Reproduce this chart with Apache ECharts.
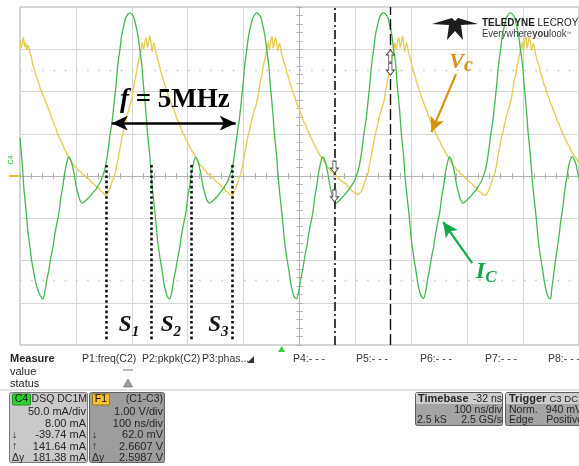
<!DOCTYPE html>
<html>
<head>
<meta charset="utf-8">
<script src="https://cdn.jsdelivr.net/npm/echarts/dist/echarts.min.js"></script>
<style>
  html, body { margin: 0; padding: 0; background: #fff; }
  #chart { width: 579px; height: 466px; }
</style>
</head>
<body>
<div id="chart"></div>
<script>
// Time axis in ns (100 ns/div, trigger-centred), amplitude in screen divisions.

// F1 = C1 - C3, capacitor voltage Vc
const vcData = [
  [-500,3.20],[-498,3.02],[-496,3.14],[-494,3.28],[-492,3.06],[-490,3.16],[-488,2.98],[-486,3.10],[-484,3.04],[-482,2.90],
  [-480,2.84],[-477,2.62],[-475,2.56],[-472,2.40],[-470,2.34],[-467,2.22],[-464,2.08],[-462,2.04],[-459,1.92],[-456,1.84],
  [-453,1.72],[-450,1.62],[-447,1.52],[-445,1.42],[-442,1.32],[-439,1.22],[-436,1.14],[-433,1.00],[-430,0.92],[-427,0.84],
  [-424,0.76],[-421,0.66],[-418,0.58],[-415,0.50],[-412,0.42],[-408,0.34],[-405,0.30],[-402,0.22],[-398,0.18],[-395,0.12],
  [-391,0.10],[-388,0.03],[-384,0.02],[-381,-0.05],[-377,-0.07],[-374,-0.13],[-370,-0.17],[-366,-0.21],[-363,-0.27],[-359,-0.29],
  [-356,-0.36],[-352,-0.38],[-349,-0.44],[-345,-0.46],
  [-342,-0.38],[-339,-0.30],[-336,-0.16],[-333,-0.06],[-330,0.04],[-327,0.24],[-324,0.46],[-321,0.66],[-318,0.88],[-315,1.06],
  [-312,1.22],[-309,1.42],[-306,1.54],[-303,1.68],[-300,1.82],[-298,2.00],[-295,2.24],[-292,2.42],[-290,2.58],[-287,2.78],
  [-284,2.94],[-282,3.10],[-281,3.16],[-279,3.00],[-277,3.10],[-276,3.22],[-274,3.28],[-272,3.04],[-270,3.14],[-268,3.32],
  [-266,3.20],[-264,2.94],[-262,3.06],[-261,3.16],[-259,3.08],[-257,2.92],[-255,2.84],[-253,2.72],[-250,2.58],[-248,2.46],
  [-245,2.34],[-242,2.20],[-239,2.08],[-236,1.96],[-233,1.84],[-230,1.74],[-227,1.62],[-224,1.54],[-221,1.42],[-218,1.32],
  [-215,1.22],[-212,1.14],[-209,1.02],[-206,0.96],[-203,0.86],[-200,0.80],[-197,0.70],[-194,0.64],[-191,0.56],[-188,0.50],
  [-184,0.40],[-181,0.36],[-178,0.26],[-174,0.22],[-171,0.14],[-167,0.12],[-164,0.04],[-160,0.03],[-157,-0.04],[-153,-0.06],
  [-150,-0.12],[-146,-0.16],[-142,-0.20],[-139,-0.26],[-135,-0.28],[-132,-0.36],[-128,-0.38],[-125,-0.44],[-120,-0.46],
  [-117,-0.38],[-114,-0.28],[-111,-0.17],[-108,-0.05],[-105,0.05],[-102,0.22],[-99,0.48],[-96,0.66],[-93,0.90],[-90,1.04],
  [-87,1.24],[-84,1.40],[-81,1.56],[-78,1.66],[-75,1.84],[-73,1.98],[-70,2.26],[-67,2.40],[-65,2.60],[-62,2.76],
  [-59,2.96],[-57,3.08],[-56,3.18],[-54,2.98],[-52,3.12],[-51,3.24],[-49,3.30],[-47,3.02],[-45,3.16],[-43,3.28],
  [-41,3.18],[-39,2.96],[-37,3.08],[-36,3.14],[-34,3.06],[-32,2.90],[-30,2.86],[-28,2.70],[-25,2.60],[-23,2.44],
  [-20,2.36],[-17,2.18],[-14,2.10],[-11,1.94],[-8,1.86],[-5,1.72],[-2,1.64],[1,1.52],[4,1.44],[7,1.30],
  [10,1.24],[13,1.12],[16,1.04],[19,0.94],[22,0.88],[25,0.78],[28,0.72],[31,0.62],[34,0.58],[37,0.48],
  [41,0.42],[44,0.34],[47,0.28],[51,0.20],[54,0.16],[58,0.10],[61,0.06],[65,0.02],[68,-0.04],[72,-0.08],
  [75,-0.10],[79,-0.16],[83,-0.18],[86,-0.24],[90,-0.28],[93,-0.34],[97,-0.38],[100,-0.40],[104,-0.44],[107,-0.46],
  [110,-0.38],[113,-0.30],[116,-0.16],[119,-0.06],[122,0.04],[125,0.24],[128,0.46],[131,0.66],[134,0.88],[137,1.06],
  [140,1.22],[143,1.42],[146,1.54],[149,1.68],[152,1.82],[154,2.00],[157,2.24],[160,2.42],[162,2.58],[165,2.78],
  [168,2.94],[170,3.10],[171,3.16],[173,3.00],[175,3.10],[176,3.22],[178,3.28],[180,3.04],[182,3.14],[184,3.32],
  [186,3.20],[188,2.94],[190,3.06],[191,3.16],[193,3.08],[195,2.92],[197,2.84],[199,2.72],[202,2.58],[204,2.46],
  [207,2.34],[210,2.20],[213,2.08],[216,1.96],[219,1.84],[222,1.74],[225,1.62],[228,1.54],[231,1.42],[234,1.32],
  [237,1.22],[240,1.14],[243,1.02],[246,0.96],[249,0.86],[252,0.80],[255,0.70],[258,0.64],[261,0.56],[264,0.50],
  [268,0.40],[271,0.36],[274,0.26],[278,0.22],[281,0.14],[285,0.12],[288,0.04],[292,0.03],[295,-0.04],[299,-0.06],
  [302,-0.12],[306,-0.16],[310,-0.20],[313,-0.26],[317,-0.28],[320,-0.36],[324,-0.38],[327,-0.44],[334,-0.46],
  [337,-0.38],[340,-0.28],[343,-0.17],[346,-0.05],[349,0.05],[352,0.22],[355,0.48],[358,0.66],[361,0.90],[364,1.04],
  [367,1.24],[370,1.40],[373,1.56],[376,1.66],[379,1.84],[381,1.98],[384,2.26],[387,2.40],[389,2.60],[392,2.76],
  [395,2.96],[397,3.08],[398,3.18],[400,2.98],[402,3.12],[403,3.24],[405,3.30],[407,3.02],[409,3.16],[411,3.28],
  [413,3.18],[415,2.96],[417,3.08],[418,3.14],[420,3.06],[422,2.90],[424,2.86],[426,2.70],[429,2.60],[431,2.44],
  [434,2.36],[437,2.18],[440,2.10],[443,1.94],[446,1.86],[449,1.72],[452,1.64],[455,1.52],[458,1.44],[461,1.30],
  [464,1.24],[467,1.12],[470,1.04],[473,0.94],[476,0.88],[479,0.78],[482,0.72],[485,0.62],[488,0.58],[491,0.48],
  [495,0.42],[498,0.34],[501,0.28]
];

// C4, collector current Ic
const icData = [
  [-500,0.90],[-496,0.30],[-493,-0.30],[-489,-0.85],[-486,-1.30],[-482,-1.70],[-479,-2.02],[-475,-2.30],[-472,-2.52],[-468,-2.70],
  [-465,-2.80],[-462,-2.87],[-459,-2.92],
  [-455,-2.70],[-452,-2.46],[-448,-2.20],[-445,-1.94],[-441,-1.68],[-438,-1.40],[-434,-1.12],[-430,-0.85],[-427,-0.52],[-423,-0.21],
  [-420,0.08],[-416,0.33],[-413,0.45],[-410,0.40],[-407,0.28],[-403,0.03],[-400,-0.21],[-396,-0.42],[-393,-0.57],[-388,-0.64],
  [-384,-0.60],[-379,-0.54],[-374,-0.47],[-370,-0.40],[-365,-0.33],[-361,-0.24],[-356,-0.13],[-352,0.00],[-348,0.17],[-345,0.38],
  [-342,0.65],[-339,0.97],[-335,1.32],[-332,1.68],[-328,2.18],[-325,2.63],[-321,3.02],[-318,3.34],[-314,3.58],[-311,3.74],
  [-307,3.83],[-304,3.86],[-300,3.83],[-296,3.74],[-293,3.58],[-289,3.32],[-286,3.02],[-282,2.62],[-279,2.12],[-275,1.56],
  [-272,1.02],[-268,0.50],[-265,-0.04],[-261,-0.57],[-257,-1.06],[-254,-1.51],[-250,-1.90],[-246,-2.22],[-243,-2.50],[-239,-2.75],
  [-236,-2.86],[-232,-2.91],
  [-228,-2.71],[-225,-2.45],[-221,-2.19],[-218,-1.95],[-214,-1.67],[-211,-1.38],[-207,-1.11],[-203,-0.84],[-200,-0.51],[-196,-0.20],
  [-193,0.09],[-189,0.34],[-186,0.44],[-183,0.39],[-180,0.27],[-176,0.02],[-173,-0.22],[-169,-0.43],[-166,-0.56],[-161,-0.64],
  [-157,-0.61],[-152,-0.55],[-147,-0.48],[-143,-0.41],[-138,-0.33],[-134,-0.25],[-129,-0.14],[-125,0.00],[-121,0.16],[-118,0.36],
  [-115,0.63],[-112,0.95],[-108,1.30],[-105,1.66],[-101,2.16],[-98,2.62],[-94,3.01],[-91,3.33],[-87,3.57],[-84,3.73],
  [-80,3.82],[-77,3.86],[-73,3.83],[-69,3.75],[-66,3.58],[-62,3.33],[-59,3.02],[-55,2.62],[-52,2.11],[-48,1.55],
  [-45,1.01],[-41,0.49],[-38,-0.05],[-34,-0.58],[-30,-1.07],[-27,-1.52],[-23,-1.91],[-19,-2.23],[-16,-2.51],[-12,-2.76],
  [-9,-2.87],[-5,-2.90],
  [-1,-2.70],[2,-2.46],[6,-2.20],[9,-1.94],[13,-1.68],[16,-1.41],[20,-1.12],[24,-0.86],[27,-0.53],[31,-0.22],
  [34,0.07],[38,0.32],[41,0.45],[44,0.41],[47,0.29],[51,0.04],[54,-0.21],[58,-0.43],[61,-0.58],[66,-0.64],
  [70,-0.60],[75,-0.53],[80,-0.46],[84,-0.39],[89,-0.31],[93,-0.23],[98,-0.12],[102,0.01],[106,0.18],[109,0.39],
  [112,0.66],[115,0.98],[119,1.33],[122,1.69],[126,2.19],[129,2.64],[133,3.03],[136,3.35],[140,3.59],[143,3.75],
  [147,3.84],[150,3.86],[154,3.83],[158,3.76],[161,3.59],[165,3.35],[168,3.03],[172,2.64],[175,2.13],[179,1.57],
  [182,1.03],[186,0.51],[189,-0.03],[193,-0.56],[197,-1.05],[200,-1.50],[204,-1.89],[208,-2.21],[211,-2.49],[215,-2.74],
  [218,-2.85],[222,-2.90],
  [226,-2.71],[229,-2.46],[233,-2.19],[236,-1.94],[240,-1.67],[243,-1.40],[247,-1.12],[251,-0.85],[254,-0.52],[258,-0.21],
  [261,0.08],[265,0.33],[268,0.45],[271,0.40],[274,0.28],[278,0.03],[281,-0.21],[285,-0.42],[288,-0.57],[293,-0.64],
  [297,-0.60],[302,-0.54],[307,-0.47],[311,-0.40],[316,-0.33],[320,-0.24],[325,-0.13],[329,0.00],[333,0.17],[336,0.38],
  [339,0.65],[342,0.97],[346,1.32],[349,1.68],[353,2.18],[356,2.63],[360,3.02],[363,3.34],[367,3.58],[370,3.74],
  [374,3.83],[377,3.86],[381,3.83],[385,3.74],[388,3.58],[392,3.32],[395,3.02],[399,2.62],[402,2.12],[406,1.56],
  [409,1.02],[413,0.50],[416,-0.04],[420,-0.57],[424,-1.06],[427,-1.51],[431,-1.90],[435,-2.22],[438,-2.50],[442,-2.75],
  [445,-2.86],[449,-2.91],
  [451,-2.70],[454,-2.40],[457,-2.10],[460,-1.80],[464,-1.45],[467,-1.10],[471,-0.75],[474,-0.40],[478,-0.05],[481,0.20],
  [485,0.40],[488,0.46],[491,0.40],[495,0.26],[498,0.06],[501,-0.10]
];

// Switching-interval boundaries and their labels
const dividerTimes = [-345, -266, -194, -120];
const intervalLabels = ['1', '2', '3'];
const intervalLabelTimes = [-305, -230, -145];

// Cursors (time, ns) and trigger position
const cursorTimes = [62.5, 162.5];
const triggerTime = -32;

// Bottom readout texts
const measureHeads = ['P1:freq(C2)', 'P2:pkpk(C2)', 'P3:phas...', 'P4:- - -', 'P5:- - -', 'P6:- - -', 'P7:- - -', 'P8:- - -'];
const c4Rows = ['50.0 mA/div', '8.00 mA', '-39.74 mA', '141.64 mA', '181.38 mA'];
const f1Rows = ['1.00 V/div', '100 ns/div', '62.0 mV', '2.6607 V', '2.5987 V'];
const rowMarks = ['', '', '\u2193', '\u2191', '\u0394y'];

const SERIF = '"Liberation Serif", "DejaVu Serif", serif';
const SANS = '"Liberation Sans", Arial, sans-serif';
const VC_COLOR = '#d4920f';
const IC_COLOR = '#12a84c';

const chart = echarts.init(document.getElementById('chart'), null, { renderer: 'canvas' });

function axisX(pos, grid) {
  return {
    type: 'value', min: -500, max: 500, interval: 100, position: pos,
    axisLine: { onZero: true, lineStyle: { color: '#b2b2b2', width: 1 } },
    axisTick: { show: true, length: 3, lineStyle: { color: '#b2b2b2' } },
    minorTick: { show: true, splitNumber: 5, length: 3, lineStyle: { color: '#b2b2b2' } },
    axisLabel: { show: false },
    splitLine: { show: grid, lineStyle: { color: '#d6d6d6', width: 1 } }
  };
}
function axisY(pos, grid) {
  return {
    type: 'value', min: -4, max: 4, interval: 1, position: pos,
    axisLine: { onZero: true, lineStyle: { color: '#b2b2b2', width: 1 } },
    axisTick: { show: true, length: 3, lineStyle: { color: '#b2b2b2' } },
    minorTick: { show: true, splitNumber: 5, length: 3, lineStyle: { color: '#b2b2b2' } },
    axisLabel: { show: false },
    splitLine: { show: grid, lineStyle: { color: '#d6d6d6', width: 1 } }
  };
}

function vLine(t, y0, y1, style) {
  return [{ coord: [t, y0], lineStyle: style }, { coord: [t, y1] }];
}

const subRich = (size, sub, color) => ({
  m: { fontFamily: SERIF, fontStyle: 'italic', fontWeight: 'bold', fontSize: size, lineHeight: size + 5, color: color },
  n: { fontFamily: SERIF, fontStyle: 'italic', fontWeight: 'bold', fontSize: sub, lineHeight: sub, verticalAlign: 'bottom', color: color }
});

const ARROW_UP = 'path://M5,0 L10,5 L7,5 L7,12 L3,12 L3,5 L0,5 Z';

const labelPoint = (coord, formatter, rich) => ({
  coord: coord, symbol: 'circle', symbolSize: 1, itemStyle: { color: 'rgba(0,0,0,0)' },
  label: { show: true, position: 'inside', formatter: formatter, rich: rich }
});
const cursorGlyph = (coord, rotate) => ({
  coord: coord, symbol: ARROW_UP, symbolSize: [8, 12], symbolRotate: rotate,
  itemStyle: { color: '#ffffff', borderColor: '#505050', borderWidth: 1 }, label: { show: false }
});

chart.setOption({
  animation: false,
  backgroundColor: '#ffffff',
  grid: { left: 20, top: 7, width: 560, height: 338, show: true, borderColor: '#a9a9a9', borderWidth: 1, backgroundColor: '#ffffff' },
  xAxis: [axisX('bottom', true), axisX('top', false)],
  yAxis: [axisY('left', true), axisY('right', false)],
  series: [
    {
      name: 'Vc', type: 'line', data: vcData, symbol: 'none', z: 2,
      lineStyle: { color: '#e6ca4c', width: 1.4, opacity: 0.95 }
    },
    {
      name: 'Ic', type: 'line', data: icData, symbol: 'none', smooth: 0.25, z: 3,
      lineStyle: { color: '#45b752', width: 1.3 }
    },
    {
      name: 'notes', type: 'scatter', data: [], z: 10,
      markLine: {
        silent: true, animation: false, symbol: 'none', label: { show: false },
        data: [
          [{ coord: [-500, 2.51], lineStyle: { color: '#c4c4c4', width: 1.3, type: [1.5, 9.7] } }, { coord: [500, 2.51] }],
          [{ coord: [-500, -2.46], lineStyle: { color: '#c4c4c4', width: 1.3, type: [1.5, 9.7] } }, { coord: [500, -2.46] }],
          ...dividerTimes.map(t => vLine(t, 0.26, -3.88, { color: '#111', width: 2.6, type: [2.6, 2.6] })),
          vLine(cursorTimes[0], -4, 4, { color: '#111', width: 1.6, type: [9, 3, 2, 3] }),
          vLine(cursorTimes[1], -4, 4, { color: '#111', width: 1.4, type: [11, 4] }),
          [{ coord: [-336, 1.25], symbol: 'arrow', symbolSize: [11, 16], lineStyle: { color: '#000', width: 2.6, type: 'solid' } },
           { coord: [-114, 1.25], symbol: 'arrow', symbolSize: [11, 16] }],
          [{ coord: [280, 2.41], symbol: 'none', lineStyle: { color: VC_COLOR, width: 2.2, type: 'solid' } },
           { coord: [236, 1.04], symbol: 'arrow', symbolSize: [11, 15] }],
          [{ coord: [309, -2.06], symbol: 'none', lineStyle: { color: IC_COLOR, width: 2.2, type: 'solid' } },
           { coord: [257, -1.09], symbol: 'arrow', symbolSize: [11, 15] }]
        ]
      },
      markPoint: {
        silent: true, animation: false,
        data: [
          labelPoint([-223, 1.80], '{f|f}{r| = 5MHz}', {
            f: { fontFamily: SERIF, fontStyle: 'italic', fontWeight: 'bold', fontSize: 27, color: '#000' },
            r: { fontFamily: SERIF, fontWeight: 'bold', fontSize: 27, color: '#000' }
          }),
          ...intervalLabels.map((n, i) => labelPoint([intervalLabelTimes[i], -3.53], '{m|S}{n|' + n + '}', subRich(23, 15, '#111'))),
          labelPoint([289, 2.70], '{m|V}{n|c}', subRich(22, 20, VC_COLOR)),
          labelPoint([334, -2.27], '{m|I}{n|C}', subRich(24, 17, IC_COLOR)),
          cursorGlyph([cursorTimes[1], 2.84], 0),
          cursorGlyph([cursorTimes[1], 2.53], 180),
          cursorGlyph([cursorTimes[0], 0.21], 180),
          cursorGlyph([cursorTimes[0], -0.47], 180)
        ]
      }
    }
  ]
});

// Oscilloscope chrome: readout panel, logo, channel tags
function txt(x, y, s, o) {
  o = o || {};
  const al = o.align || 'left';
  return {
    type: 'text', x: x, y: y, silent: true, z: 30, rotation: o.rotation || 0,
    style: {
      text: s, fill: o.fill || '#262626',
      font: (o.weight || 'normal') + ' ' + (o.size || 10.5) + 'px ' + (o.family || SANS),
      textAlign: al, align: al, textVerticalAlign: 'middle', verticalAlign: 'middle'
    }
  };
}
function box(x, y, w, h, fill, stroke, r) {
  return { type: 'rect', silent: true, z: 25, shape: { x: x, y: y, width: w, height: h, r: r || 0 },
    style: { fill: fill, stroke: stroke || null, lineWidth: 1 } };
}

const g = [];
// logo
g.push({ type: 'polygon', silent: true, z: 30, shape: { points: [
  [432, 24], [452, 18], [455, 21], [458, 18], [478, 24], [461, 25], [463, 40], [455, 31], [447, 40], [449, 25]
] }, style: { fill: '#1c1c1c' } });
g.push({ type: 'text', x: 482, y: 23, scaleX: 0.86, silent: true, z: 30, style: {
  text: '{b|TELEDYNE} {r|LECROY}', textVerticalAlign: 'middle', verticalAlign: 'middle',
  rich: { b: { font: 'bold 11.5px ' + SANS, fill: '#1c1c1c' }, r: { font: '11.5px ' + SANS, fill: '#1c1c1c' } }
} });
g.push({ type: 'text', x: 482, y: 34, scaleX: 0.95, silent: true, z: 30, style: {
  text: '{r|Everywhere}{b|you}{r|look}{t|\u2122}', textVerticalAlign: 'middle', verticalAlign: 'middle',
  rich: { b: { font: 'bold 10px ' + SANS, fill: '#404040' }, r: { font: '10px ' + SANS, fill: '#404040' }, t: { font: '5px ' + SANS, fill: '#404040' } }
} });

// channel tag at left edge
g.push(txt(11, 160, 'C4', { size: 7, fill: '#36c13f', rotation: Math.PI / 2, align: 'center' }));
g.push({ type: 'line', silent: true, z: 30, shape: { x1: 9, y1: 176, x2: 20, y2: 176 }, style: { stroke: '#e2c23f', lineWidth: 2 } });

// trigger position marker under the grid
const trigX = chart.convertToPixel({ xAxisIndex: 0 }, triggerTime);
const gridBottom = chart.convertToPixel({ yAxisIndex: 0 }, -4);
g.push({ type: 'polygon', silent: true, z: 30, shape: { points: [[trigX - 3.5, gridBottom + 7], [trigX + 3.5, gridBottom + 7], [trigX, gridBottom + 1]] },
  style: { fill: '#35c936' } });

// measure table
g.push(txt(10, 359, 'Measure', { weight: 'bold', size: 11 }));
g.push(txt(10, 372, 'value', { size: 11 }));
g.push(txt(10, 384, 'status', { size: 11 }));
const headX = [82, 142, 202, 293, 356, 420, 485, 548];
measureHeads.forEach((s, i) => g.push(txt(headX[i], 359, s, { size: 10.5, fill: '#333' })));
g.push({ type: 'polygon', silent: true, z: 30, shape: { points: [[247, 363], [254, 363], [254, 356]] }, style: { fill: '#333' } });
g.push({ type: 'line', silent: true, z: 30, shape: { x1: 123, y1: 370, x2: 133, y2: 370 }, style: { stroke: '#777', lineWidth: 1 } });
g.push({ type: 'polygon', silent: true, z: 30, shape: { points: [[123.5, 387], [132.5, 387], [128, 379]] }, style: { fill: '#9a9a9a', stroke: '#666', lineWidth: 0.6 } });
g.push({ type: 'line', silent: true, z: 24, shape: { x1: 0, y1: 390, x2: 579, y2: 390 }, style: { stroke: '#c4c4c4', lineWidth: 1 } });

// channel descriptor boxes
const rowY = [412, 423.5, 435, 446.5, 458];
g.push(box(9.5, 392.5, 78, 70, '#c9c9c9', '#7b7b7b', 2));
g.push(box(12.5, 394, 18, 11, '#2fd22f', '#1e8d1e', 1));
g.push(txt(21.5, 399.5, 'C4', { size: 10.5, fill: '#111', align: 'center' }));
g.push(txt(87, 399.5, 'DSQ DC1M', { size: 10.5, align: 'right' }));
c4Rows.forEach((s, i) => g.push(txt(86, rowY[i], s, { size: 11, align: 'right' })));
rowMarks.forEach((s, i) => s && g.push(txt(12, rowY[i], s, { size: 10.5 })));

g.push(box(89.5, 392.5, 75, 70, '#9d9d9d', '#646464', 2));
g.push(box(92.5, 394, 17, 11, '#f2c232', '#9b7612', 1));
g.push(txt(101, 399.5, 'F1', { size: 10.5, fill: '#111', align: 'center' }));
g.push(txt(163, 399.5, '(C1-C3)', { size: 10.5, align: 'right' }));
f1Rows.forEach((s, i) => g.push(txt(163, rowY[i], s, { size: 11, align: 'right' })));
rowMarks.forEach((s, i) => s && g.push(txt(92, rowY[i], s, { size: 10.5 })));

// timebase and trigger boxes
g.push(box(415.5, 392.5, 87, 33, '#a4a4a4', '#5e5e5e', 2));
g.push(box(416, 393, 86, 11, '#cdcdcd', null, 0));
g.push(txt(418, 399, 'Timebase', { weight: 'bold', size: 11 }));
g.push(txt(502, 399, '-32 ns', { size: 10.5, align: 'right' }));
g.push(txt(502, 410, '100 ns/div', { size: 10.5, align: 'right' }));
g.push(txt(417, 420, '2.5 kS', { size: 10.5 }));
g.push(txt(502, 420, '2.5 GS/s', { size: 10.5, align: 'right' }));

g.push(box(505.5, 392.5, 80, 33, '#a4a4a4', '#5e5e5e', 2));
g.push(box(506, 393, 79, 11, '#cdcdcd', null, 0));
g.push(txt(509, 399, 'Trigger', { weight: 'bold', size: 11 }));
g.push(txt(578, 399, 'C3 DC', { size: 9.5, align: 'right' }));
g.push(txt(509, 410, 'Norm.', { size: 10.5 }));
g.push(txt(582, 410, '940 mV', { size: 10.5, align: 'right' }));
g.push(txt(509, 420, 'Edge', { size: 10.5 }));
g.push(txt(583, 420, 'Positive', { size: 10.5, align: 'right' }));

chart.setOption({ graphic: g });
</script>
</body>
</html>
